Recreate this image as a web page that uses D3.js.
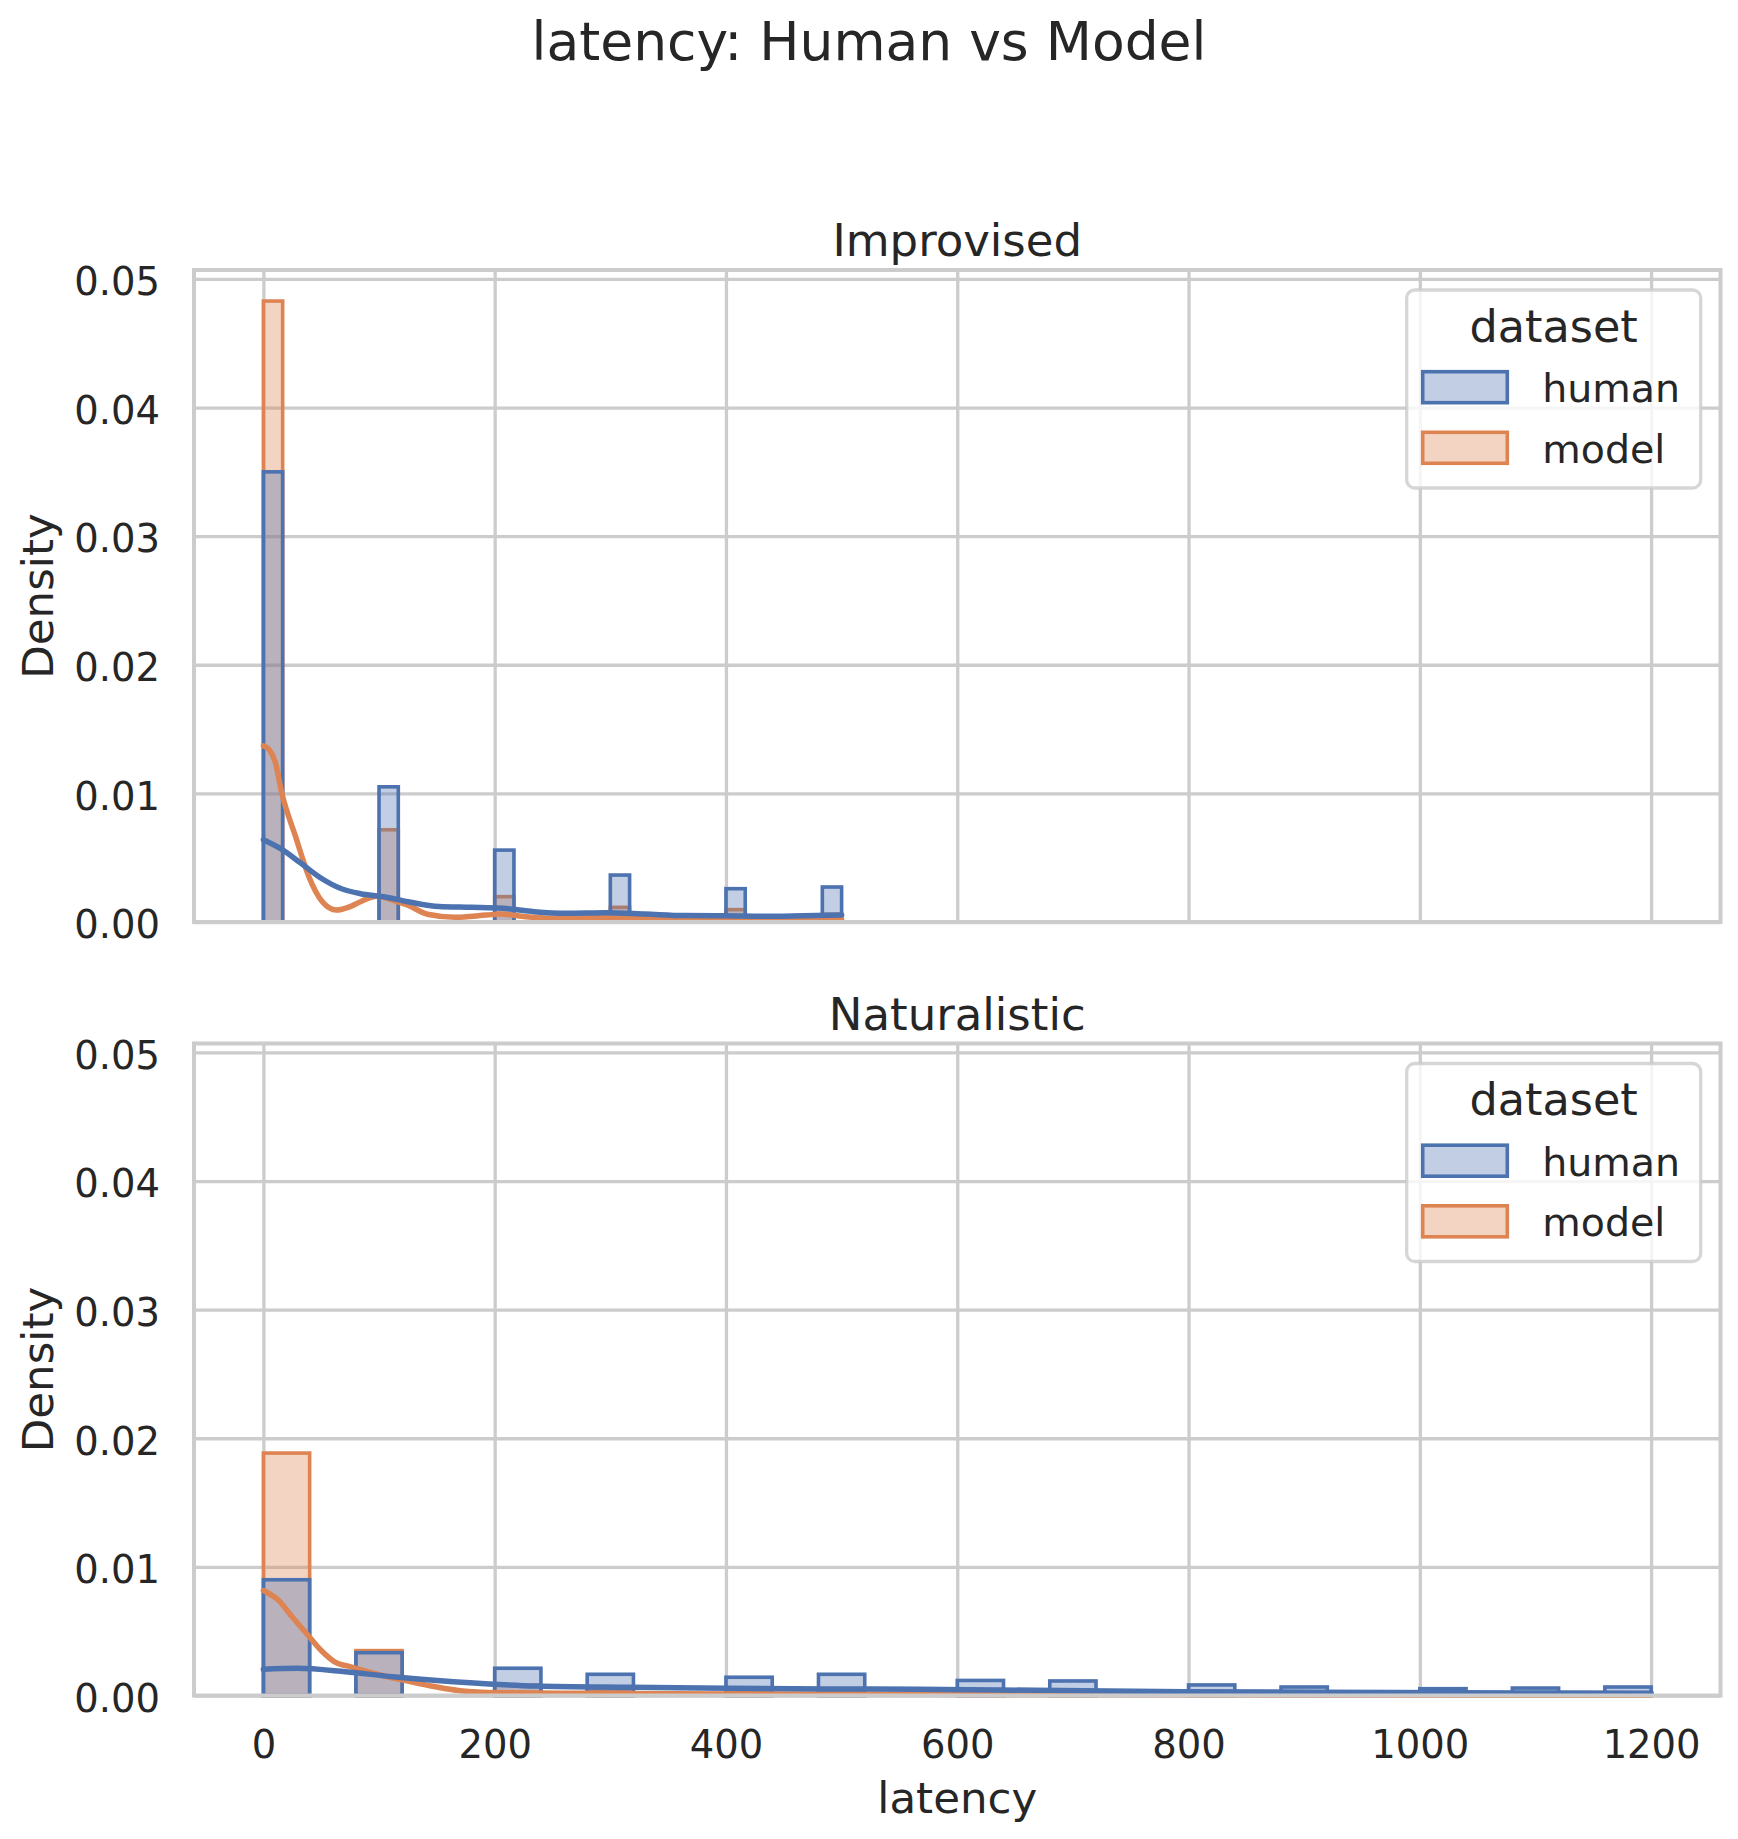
<!DOCTYPE html>
<html><head><meta charset="utf-8">
<script src="https://cdn.jsdelivr.net/npm/d3@7"></script>
<style>
body{margin:0;background:#fff}
text{font-family:"DejaVu Sans",sans-serif;fill:#262626}
</style>
</head><body>
<svg id="chart" width="1738" height="1839"></svg>
<script>
// ---------------- data ----------------
const suptitle = "latency: Human vs Model";
const panelTitles = ["Improvised", "Naturalistic"];
const hueNames = ["human", "model"];
const legendTitle = "dataset";
const xLabel = "latency";
const yLabel = "Density";
const xTicks = [0, 200, 400, 600, 800, 1000, 1200];
const yTicks = [0, 0.01, 0.02, 0.03, 0.04, 0.05];
const xDomain = [-60, 1260];
const yMax = 0.050694;

// Improvised: 30 bins over 0..500 (only non-empty bins listed)
const impBinWidth = 500 / 30;
const impBinStart = [0, 100, 200, 300, 400, 483.333];
const impHuman = [0.0350, 0.01051, 0.00559, 0.00365, 0.00259, 0.00272];
const impModel = [0.04828, 0.00717, 0.00197, 0.00114, 0.00096, 0.0006];

// Naturalistic: 30 bins over 0..1200 (only non-empty bins listed)
const natBinWidth = 40;
const natBinStart = [0, 80, 200, 280, 400, 480, 600, 680, 800, 880, 1000, 1080, 1160];
const natHuman = [0.0090, 0.00333, 0.00212, 0.00165, 0.00142, 0.00165, 0.00117, 0.00113, 0.00082, 0.00066, 0.00053, 0.00058, 0.00066];
const natModel = [0.01885, 0.00349, 0.0008, 0.0005, 0.0004, 0.0004, 0.0002, 0.0002, 0.0001, 0.0001, 0.0001, 0.00005, 0.00005];

// KDE curves
const impHumanKdeX = [0, 15, 32, 50, 67, 84, 104, 125, 152, 180, 207, 234, 262, 296, 330, 364, 398, 433, 467, 500];
const impHumanKdeY = [0.0064, 0.0057, 0.0046, 0.0034, 0.0026, 0.0022, 0.00197, 0.00158, 0.0012, 0.00114, 0.00106, 0.0008, 0.00068, 0.00072, 0.00062, 0.0005, 0.00049, 0.00045, 0.00049, 0.00054];
const impModelKdeX = [0, 5, 10, 16, 28, 39, 51, 63, 75, 84, 98, 115, 125, 142, 166, 193, 205, 227, 255, 296, 330, 360, 400, 450, 500];
const impModelKdeY = [0.0137, 0.0134, 0.0125, 0.0100, 0.0066, 0.0036, 0.00157, 0.00093, 0.0012, 0.00158, 0.0020, 0.0016, 0.0013, 0.0006, 0.00036, 0.00054, 0.00062, 0.00041, 0.00029, 0.00036, 0.00029, 0.00025, 0.00023, 0.0002, 0.0002];
const natHumanKdeX = [0, 29, 71, 112, 153, 195, 236, 319, 402, 485, 567, 637, 709, 797, 910, 1031, 1200];
const natHumanKdeY = [0.00204, 0.00212, 0.00185, 0.00146, 0.00115, 0.0009, 0.00074, 0.00064, 0.00056, 0.00051, 0.00048, 0.00043, 0.00037, 0.0003, 0.00025, 0.00022, 0.00017];
const natModelKdeX = [0, 13, 25, 37.5, 50, 62, 75, 95, 120, 145, 170, 203, 278, 402, 637, 900, 1200];
const natModelKdeY = [0.00816, 0.0074, 0.0061, 0.0048, 0.0035, 0.0026, 0.00224, 0.00173, 0.00121, 0.00074, 0.00037, 0.00022, 0.00017, 0.00012, 0.00007, 0.00004, 0.00002];

const palette = {human: "#4c72b0", model: "#dd8452"};

const panelData = [
  {title: panelTitles[0], binWidth: impBinWidth, binStart: impBinStart, human: impHuman, model: impModel,
   kde: {human: [impHumanKdeX, impHumanKdeY], model: [impModelKdeX, impModelKdeY]}},
  {title: panelTitles[1], binWidth: natBinWidth, binStart: natBinStart, human: natHuman, model: natModel,
   kde: {human: [natHumanKdeX, natHumanKdeY], model: [natModelKdeX, natModelKdeY]}}
];

// ---------------- layout ----------------
const svg = d3.select("#chart");
const left = 194, right = 1720.5;
const panelTops = [270, 1043.5];
const panelH = 652;
const gridColor = "#cccccc";
const x = d3.scaleLinear().domain(xDomain).range([left, right]);

svg.append("text").attr("x", 869).attr("y", 59.5).attr("text-anchor", "middle")
  .style("font-size", "53.5px").text(suptitle);

panelData.forEach((p, pi) => {
  const top = panelTops[pi];
  const bottom = top + panelH;
  const y = d3.scaleLinear().domain([0, yMax]).range([bottom, top]);
  const g = svg.append("g");

  // grid
  g.append("g").attr("transform", `translate(0,${bottom})`)
    .call(d3.axisBottom(x).tickValues(xTicks).tickSize(-panelH).tickFormat(""))
    .call(s => s.select(".domain").remove())
    .call(s => s.selectAll("line").attr("stroke", gridColor).attr("stroke-width", 3.3));
  g.append("g").attr("transform", `translate(${left},0)`)
    .call(d3.axisLeft(y).tickValues(yTicks).tickSize(-(right - left)).tickFormat(""))
    .call(s => s.select(".domain").remove())
    .call(s => s.selectAll("line").attr("stroke", gridColor).attr("stroke-width", 3.3));

  // bars: model first, human on top
  ["model", "human"].forEach(h => {
    const vals = p[h];
    g.append("g").selectAll("rect").data(p.binStart.map((s, i) => ({x0: s, x1: s + p.binWidth, v: vals[i]})))
      .join("rect")
      .attr("x", d => x(d.x0)).attr("width", d => x(d.x1) - x(d.x0))
      .attr("y", d => y(d.v)).attr("height", d => y(0) - y(d.v))
      .attr("fill", palette[h]).attr("fill-opacity", 0.35)
      .attr("stroke", palette[h]).attr("stroke-width", 3.6);
  });

  // KDE lines
  const line = d3.line().x(d => x(d[0])).y(d => y(d[1])).curve(d3.curveMonotoneX);
  ["model", "human"].forEach(h => {
    const [kx, ky] = p.kde[h];
    g.append("path").datum(kx.map((v, i) => [v, ky[i]]))
      .attr("d", line).attr("fill", "none")
      .attr("stroke", palette[h]).attr("stroke-width", 5.5)
      .attr("stroke-linejoin", "round").attr("stroke-linecap", "round");
  });

  // spines
  g.append("rect").attr("x", left).attr("y", top).attr("width", right - left).attr("height", panelH)
    .attr("fill", "none").attr("stroke", gridColor).attr("stroke-width", 4);

  // y tick labels
  const ya = g.append("g").attr("transform", `translate(${left},0)`)
    .call(d3.axisLeft(y).tickValues(yTicks).tickFormat(d3.format(".2f")).tickSize(0).tickPadding(34));
  ya.select(".domain").remove();
  ya.selectAll("text").attr("dy", "0.41em").style("font-size", "38.5px").attr("fill", "#262626").style("font-family", '"DejaVu Sans",sans-serif');

  // x tick labels on bottom panel only
  if (pi === panelData.length - 1) {
    const xa = g.append("g").attr("transform", `translate(0,${bottom})`)
      .call(d3.axisBottom(x).tickValues(xTicks).tickFormat(d3.format("d")).tickSize(0).tickPadding(0));
    xa.select(".domain").remove();
    xa.selectAll("text").attr("y", 62.5).attr("dy", 0).style("font-size", "38.5px").attr("fill", "#262626").style("font-family", '"DejaVu Sans",sans-serif');
    g.append("text").attr("x", (left + right) / 2).attr("y", 1813.3).attr("text-anchor", "middle")
      .style("font-size", "43.5px").text(xLabel);
  }

  // y label
  g.append("text").attr("transform", `translate(53,${(top + bottom) / 2}) rotate(-90)`)
    .attr("text-anchor", "middle").style("font-size", "43.5px").text(yLabel);

  // panel title
  g.append("text").attr("x", (left + right) / 2).attr("y", top - 14).attr("text-anchor", "middle")
    .style("font-size", "45px").text(p.title);

  // legend
  const lg = g.append("g").attr("transform", `translate(1406.7,${top + 20})`);
  lg.append("rect").attr("width", 294).attr("height", 198).attr("rx", 8)
    .attr("fill", "#fff").attr("fill-opacity", 0.8)
    .attr("stroke", "#cccccc").attr("stroke-opacity", 0.8).attr("stroke-width", 3.3);
  lg.append("text").attr("x", 147).attr("y", 51.7).attr("text-anchor", "middle")
    .style("font-size", "44.5px").text(legendTitle);
  hueNames.forEach((h, i) => {
    const yy = 81.7 + i * 60.6;
    lg.append("rect").attr("x", 16).attr("y", yy).attr("width", 84.6).attr("height", 31)
      .attr("fill", palette[h]).attr("fill-opacity", 0.35)
      .attr("stroke", palette[h]).attr("stroke-width", 3.6);
    lg.append("text").attr("x", 135.6).attr("y", yy + 30.5).style("font-size", "39.5px").text(h);
  });
});
</script>
</body></html>
